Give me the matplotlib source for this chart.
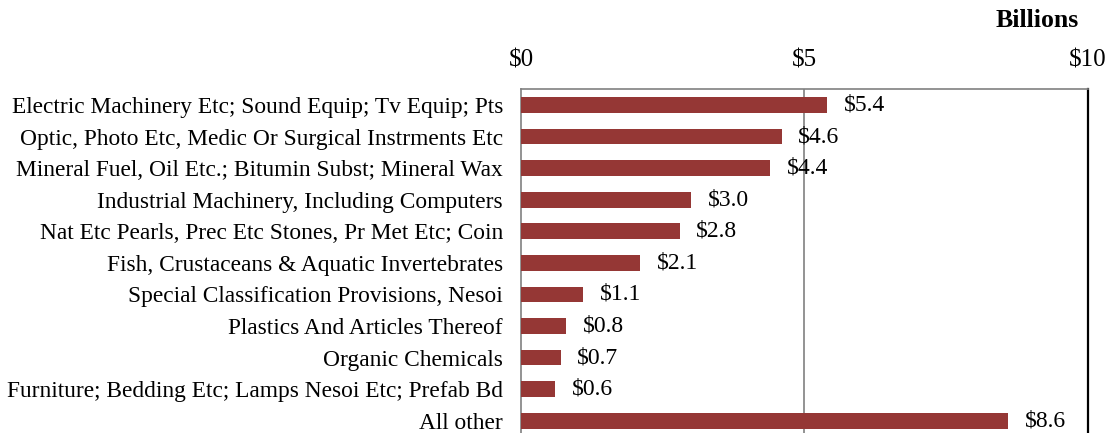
import matplotlib
matplotlib.use("Agg")
import matplotlib.pyplot as plt

categories = [
    "Electric Machinery Etc; Sound Equip; Tv Equip; Pts",
    "Optic, Photo Etc, Medic Or Surgical Instrments Etc",
    "Mineral Fuel, Oil Etc.; Bitumin Subst; Mineral Wax",
    "Industrial Machinery, Including Computers",
    "Nat Etc Pearls, Prec Etc Stones, Pr Met Etc; Coin",
    "Fish, Crustaceans & Aquatic Invertebrates",
    "Special Classification Provisions, Nesoi",
    "Plastics And Articles Thereof",
    "Organic Chemicals",
    "Furniture; Bedding Etc; Lamps Nesoi Etc; Prefab Bd",
    "All other",
]
values = [5.4, 4.6, 4.4, 3.0, 2.8, 2.1, 1.1, 0.8, 0.7, 0.6, 8.6]
tick_values = [0, 5, 10]
tick_labels = ["$0", "$5", "$10"]

plt.rcParams["font.family"] = ["Liberation Serif", "DejaVu Serif"]
fs_cat = 16.8
fs_val = 17
fs_tick = 18

fig = plt.figure(figsize=(11.11, 4.33), dpi=100)
ax = fig.add_axes([0.469, -0.008, 0.510, 0.802])

y = list(range(len(categories)))
ax.barh(y, values, height=0.5, color="#953735", zorder=3)

for yi, v in zip(y, values):
    ax.annotate(f"${v:.1f}", xy=(v, yi), xytext=(12, 0), textcoords="offset points",
                ha="left", va="center", fontsize=fs_val, zorder=4)

ax.set_xlim(0, 10)
ax.set_ylim(len(categories) - 0.5, -0.5)
ax.set_yticks(y)
ax.set_yticklabels(categories, fontsize=fs_cat)
ax.xaxis.tick_top()
ax.set_xticks(tick_values)
ax.set_xticklabels(tick_labels, fontsize=fs_tick)
ax.tick_params(axis="both", length=0)
ax.tick_params(axis="x", pad=13)
ax.tick_params(axis="y", pad=13)

ax.axvline(5, color="#808080", lw=1.2, zorder=1)

for side in ("top", "left"):
    ax.spines[side].set_color("#808080")
    ax.spines[side].set_linewidth(1.2)
ax.spines["right"].set_color("black")
ax.spines["right"].set_linewidth(1.6)
ax.spines["bottom"].set_visible(False)

fig.text(0.971, 0.953, "Billions", ha="right", va="center", fontsize=18.5, fontweight="bold")

fig.savefig("out.png", dpi=100)
